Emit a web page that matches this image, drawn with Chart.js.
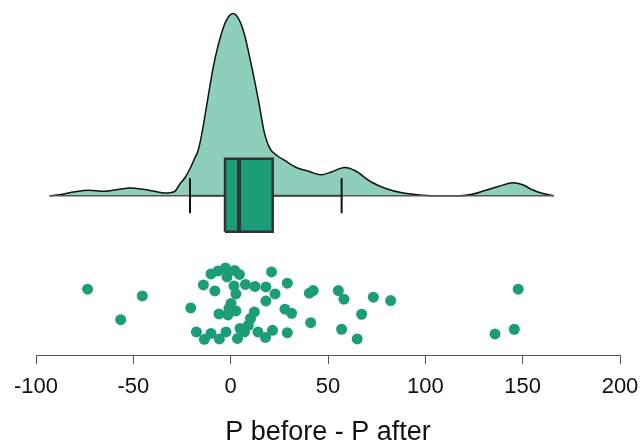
<!DOCTYPE html>
<html>
<head>
<meta charset="utf-8">
<script src="https://cdn.jsdelivr.net/npm/chart.js@4"></script>
<style>
  html, body { margin: 0; padding: 0; background: #fff; }
  #wrap { width: 640px; height: 443px; }
</style>
</head>
<body>
<div id="wrap"><canvas id="chart"></canvas></div>
<script>
/* Raincloud plot: density (cloud), box plot, jittered raw points (rain) */

// density curve (x value, height in plot units)
const densX = [-93, -88, -80, -73, -65, -57, -52, -45, -38, -34, -29, -26, -23.5, -20.9, -18.8, -16.6, -14.9, -12,
               -8.9, -4.6, -2, 1.2, 4.3, 6.8, 10.8, 14.2, 17.3, 20.2, 24, 28, 34, 40, 46.5, 52, 58.5, 64, 72, 80,
               88, 96, 105, 118, 124, 131, 138, 145, 150, 155, 160, 166];
const densY = [0, 1, 4, 5.5, 4.5, 6.5, 7.8, 6.5, 4, 2.7, 4, 12, 18, 27, 36, 46, 61, 94,
               129, 163, 176, 182, 176, 163, 129, 96, 63, 47, 40, 35, 28, 24.5, 21, 24, 28.3, 25, 14, 7,
               3, 1, 0, 0, 1.5, 5.5, 9.5, 13, 11, 6, 2.5, 0];

// box plot summary
const whiskerLow = -20.9;
const q1 = -2.9;
const median = 4.3;
const q3 = 21.6;
const whiskerHigh = 57.0;

// raw points: value and vertical jitter
const ptX = [-73.5, -45.4, -56.5, -20.5, -17.6, -14.0, -10.1, -6.5, -2.7, -1.9, 2.0, 4.5, 21.0,
             -8.1, 1.7, 7.6, 12.5, 18.1, 22.8, 2.7, 0.2, 18.1, -6.0, -1.4, 2.7, -0.9, 12.2, 10.2,
             -13.5, -10.1, -5.8, -2.4, 3.5, 4.8, 9.1, 7.1, 14.0, 17.9, 21.5,
             29.1, 27.9, 31.3, 29.1, 40.4, 42.4, 41.1, 55.3, 58.2, 57.0, 67.3, 65.0, 73.3, 82.2,
             147.7, 135.8, 145.7];
const ptY = [-93.3, -100, -123.7, -112, -136, -89, -78, -75, -72, -81, -74.5, -78.5, -76,
             -95, -90, -88.5, -90.5, -91, -98, -98, -107.5, -105, -118, -119, -115, -112.5, -116, -122.5,
             -143.3, -137.5, -143, -136, -142.5, -132.5, -129.3, -136, -136, -141.5, -134.3,
             -87.3, -113.3, -117.3, -136.7, -97.3, -94.7, -126.7, -94.7, -103.3, -133.3, -118.3, -143, -101.3, -104.7,
             -93.3, -138, -133.3];

const xTicks = [-100, -50, 0, 50, 100, 150, 200];

const GREEN = '#1b9e77';
const CLOUD = '#8ecfbb';
const EDGE  = '#333333';

const boxTop = 37, boxBottom = -36, capHalf = 17.5;

const pts = (xs, ys) => xs.map((x, i) => ({ x, y: ys[i] }));

new Chart(document.getElementById('chart'), {
  type: 'scatter',
  data: {
    datasets: [
      { // cloud
        data: pts(densX, densY),
        showLine: true, fill: 'origin',
        backgroundColor: CLOUD, borderColor: '#111', borderWidth: 1.5,
        pointRadius: 0, cubicInterpolationMode: 'monotone', order: 10
      },
      { // baseline of cloud
        data: [{ x: densX[0], y: 0 }, { x: densX[densX.length - 1], y: 0 }],
        showLine: true, borderColor: '#555', borderWidth: 1.5, pointRadius: 0, order: 9
      },
      { // whisker line
        data: [{ x: whiskerLow, y: 0 }, { x: whiskerHigh, y: 0 }],
        showLine: true, borderColor: '#444', borderWidth: 2, pointRadius: 0, order: 8
      },
      { // whisker caps
        data: [{ x: whiskerLow, y: -capHalf }, { x: whiskerLow, y: capHalf }, { x: NaN, y: NaN },
               { x: whiskerHigh, y: -capHalf }, { x: whiskerHigh, y: capHalf }],
        showLine: true, spanGaps: false, borderColor: '#111', borderWidth: 2, pointRadius: 0, order: 7
      },
      { // box fill top
        data: [{ x: q1, y: boxTop }, { x: q3, y: boxTop }],
        showLine: true, fill: '+1', backgroundColor: GREEN, borderWidth: 0, pointRadius: 0, order: 6
      },
      { // box fill bottom
        data: [{ x: q1, y: boxBottom }, { x: q3, y: boxBottom }],
        showLine: true, borderWidth: 0, pointRadius: 0, order: 6
      },
      { // box outline
        data: [{ x: q1, y: boxBottom }, { x: q1, y: boxTop }, { x: q3, y: boxTop },
               { x: q3, y: boxBottom }, { x: q1, y: boxBottom }],
        showLine: true, borderColor: EDGE, borderWidth: 2.5, pointRadius: 0, order: 5
      },
      { // median
        data: [{ x: median, y: boxBottom }, { x: median, y: boxTop }],
        showLine: true, borderColor: EDGE, borderWidth: 4, pointRadius: 0, order: 4
      },
      { // rain
        data: pts(ptX, ptY),
        backgroundColor: GREEN, borderWidth: 0, pointRadius: 5.5, order: 3
      }
    ]
  },
  options: {
    responsive: true,
    maintainAspectRatio: false,
    animation: false,
    layout: { padding: { left: 36, right: 20, top: 0, bottom: 0 } },
    plugins: { legend: { display: false }, tooltip: { enabled: false } },
    scales: {
      x: {
        type: 'linear', min: -100, max: 200,
        afterBuildTicks: s => { s.ticks = xTicks.map(v => ({ value: v })); },
        afterFit: s => { s.height = 88; s.paddingLeft = 0; s.paddingRight = 0; },
        border: { color: '#555', width: 1 },
        grid: { drawOnChartArea: false, drawTicks: true, tickLength: 9, color: '#555' },
        ticks: { color: '#111', padding: 10, font: { family: 'Liberation Sans, Arial, sans-serif', size: 22 } },
        title: {
          display: true, text: 'P before - P after', color: '#111',
          padding: { top: 0, bottom: -3 },
          font: { family: 'Liberation Sans, Arial, sans-serif', size: 27, lineHeight: 1 }
        }
      },
      y: { display: false, min: -159, max: 190 }
    }
  }
});
</script>
</body>
</html>
